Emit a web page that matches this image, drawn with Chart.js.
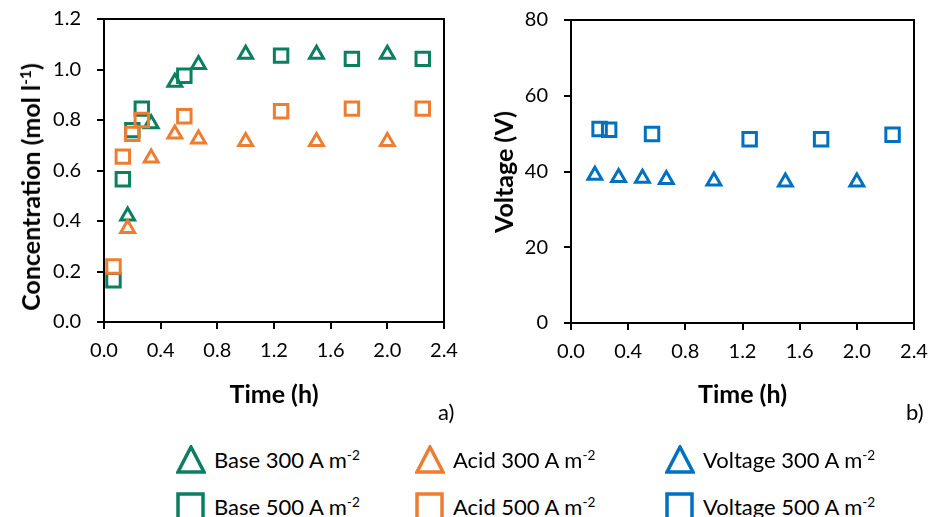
<!DOCTYPE html>
<html>
<head>
<meta charset="utf-8">
<script src="https://cdn.jsdelivr.net/npm/chart.js@4.4.0/dist/chart.umd.min.js"></script>
<style>
  body { margin: 0; background: #fff; font-family: Lato, sans-serif; }
  #wrap { position: relative; width: 929px; height: 517px; overflow: hidden; }
  .box { position: absolute; top: 0; height: 420px; }
  .ytitle { position: absolute; transform: translate(-50%, -50%) rotate(-90deg); white-space: nowrap; font: bold 25px Lato, sans-serif; color: #000; }
  .tag { position: absolute; font: 22px Lato, sans-serif; color: #000; }
  sup { font-size: 0.62em; vertical-align: super; line-height: 0; }
  .leg { position: absolute; font: 22px Lato, sans-serif; color: #000; white-space: nowrap; }
  .mark { position: absolute; }
</style>
</head>
<body>
<div id="wrap">
  <div class="box" style="left:0;width:465px"><canvas id="grafA"></canvas></div>
  <div class="box" style="left:465px;width:464px"><canvas id="grafB"></canvas></div>

  <div class="ytitle" style="left:30px;top:187px">Concentration (mol l<sup>-1</sup>)</div>
  <div class="ytitle" style="left:503px;top:172px">Voltage (V)</div>
  <div class="tag" style="left:438px;top:398px">a)</div>
  <div class="tag" style="left:906px;top:398px">b)</div>

  <div id="legenda"></div>
</div>

<script>
// time points (h)
const tempo300 = [0.167, 0.333, 0.5, 0.667, 1.0, 1.5, 2.0];
const tempo500 = [0.067, 0.133, 0.2, 0.267, 0.567, 1.25, 1.75, 2.25];
const tempoV500 = [0.2, 0.267, 0.567, 1.25, 1.75, 2.25];

// concentrations (mol/l)
const base300 = [0.42, 0.785, 0.95, 1.02, 1.06, 1.06, 1.06];
const acido300 = [0.37, 0.65, 0.745, 0.725, 0.715, 0.715, 0.715];
const base500 = [0.165, 0.565, 0.76, 0.845, 0.975, 1.055, 1.042, 1.042];
const acido500 = [0.22, 0.655, 0.745, 0.8, 0.815, 0.835, 0.845, 0.845];

// voltage (V)
const volt300 = [39.0, 38.4, 38.2, 37.9, 37.5, 37.2, 37.2];
const volt500 = [51.2, 51.0, 49.9, 48.5, 48.5, 49.7];

const ticksX = [0, 0.4, 0.8, 1.2, 1.6, 2.0, 2.4];

const verde = '#0b7f5f';
const laranja = '#ed7d31';
const azul = '#0070c0';

function pontos(xs, ys) {
    return xs.map(function (x, i) { return { x: x, y: ys[i] }; });
}

function serie(xs, ys, cor, estilo) {
    return {
        data: pontos(xs, ys),
        pointStyle: estilo,
        pointRadius: estilo === 'triangle' ? 8 : 9.5,
        pointBorderWidth: 3,
        pointBorderColor: cor,
        pointBackgroundColor: 'rgba(0,0,0,0)',
        borderColor: cor,
        showLine: false
    };
}

// plot frame (top and right edges)
const moldura = {
    id: 'moldura',
    beforeDatasetsDraw(chart) {
        const a = chart.chartArea;
        const ctx = chart.ctx;
        ctx.save();
        ctx.strokeStyle = '#000';
        ctx.lineWidth = 2;
        ctx.strokeRect(a.left, a.top, a.right - a.left, a.bottom - a.top);
        ctx.restore();
    }
};

function semPadding(s) {
    s.paddingTop = 0; s.paddingBottom = 0; s.paddingLeft = 0; s.paddingRight = 0;
}

function opcoes(yMin, yMax, yPasso, yCasas, largY, altX, pad) {
    return {
        responsive: true,
        maintainAspectRatio: false,
        animation: false,
        layout: { padding: pad },
        plugins: { legend: { display: false }, tooltip: { enabled: false } },
        scales: {
            x: {
                type: 'linear',
                min: 0, max: 2.4,
                afterBuildTicks: function (s) { s.ticks = ticksX.map(function (v) { return { value: v }; }); },
                afterFit: function (s) { s.height = altX; semPadding(s); },
                ticks: {
                    callback: function (v) { return Number(v).toFixed(1); },
                    font: { family: 'Lato', size: 20 },
                    color: '#000',
                    padding: 10,
                    maxRotation: 0
                },
                grid: { drawOnChartArea: false, tickLength: 7, color: '#000', lineWidth: 2 },
                border: { color: '#000', width: 2 },
                title: {
                    display: true,
                    text: 'Time (h)',
                    color: '#000',
                    font: { family: 'Lato', size: 25, weight: 'bold' },
                    padding: { top: 0, bottom: 10 }
                }
            },
            y: {
                min: yMin, max: yMax,
                afterFit: function (s) { s.width = largY; semPadding(s); },
                ticks: {
                    stepSize: yPasso,
                    callback: function (v) { return Number(v).toFixed(yCasas); },
                    font: { family: 'Lato', size: 20 },
                    color: '#000',
                    padding: 16
                },
                grid: { drawOnChartArea: false, tickLength: 7, color: '#000', lineWidth: 2 },
                border: { color: '#000', width: 2 }
            }
        }
    };
}

document.addEventListener("DOMContentLoaded", function () {
    new Chart(document.getElementById('grafA').getContext('2d'), {
        type: 'scatter',
        data: {
            datasets: [
                serie(tempo500, acido500, laranja, 'rect'),
                serie(tempo300, acido300, laranja, 'triangle'),
                serie(tempo500, base500, verde, 'rect'),
                serie(tempo300, base300, verde, 'triangle')
            ]
        },
        options: opcoes(0, 1.2, 0.2, 1, 104, 98, { top: 19, right: 21, left: 0, bottom: 0 }),
        plugins: [moldura]
    });

    new Chart(document.getElementById('grafB').getContext('2d'), {
        type: 'scatter',
        data: {
            datasets: [
                serie(tempoV500, volt500, azul, 'rect'),
                serie(tempo300, volt300, azul, 'triangle')
            ]
        },
        options: opcoes(0, 80, 20, 0, 106, 97, { top: 20, right: 15, left: 0, bottom: 0 }),
        plugins: [moldura]
    });

    // legend below both panels
    const itens = [
        { txt: 'Base 300 A m', cor: verde, tipo: 'tri', x: 176, y: 445 },
        { txt: 'Acid 300 A m', cor: laranja, tipo: 'tri', x: 415, y: 445 },
        { txt: 'Voltage 300 A m', cor: azul, tipo: 'tri', x: 665, y: 445 },
        { txt: 'Base 500 A m', cor: verde, tipo: 'sq', x: 176, y: 492 },
        { txt: 'Acid 500 A m', cor: laranja, tipo: 'sq', x: 415, y: 492 },
        { txt: 'Voltage 500 A m', cor: azul, tipo: 'sq', x: 665, y: 492 }
    ];
    const leg = document.getElementById('legenda');
    itens.forEach(function (it) {
        let svg;
        if (it.tipo === 'tri') {
            svg = '<svg class="mark" style="left:' + it.x + 'px;top:' + it.y + 'px" width="30" height="29">' +
                '<polygon points="15,2 28,27 2,27" fill="none" stroke="' + it.cor + '" stroke-width="3.5"/></svg>';
        } else {
            svg = '<svg class="mark" style="left:' + it.x + 'px;top:' + it.y + 'px" width="30" height="30">' +
                '<rect x="2" y="2" width="25" height="25" fill="none" stroke="' + it.cor + '" stroke-width="3.5"/></svg>';
        }
        leg.insertAdjacentHTML('beforeend', svg +
            '<div class="leg" style="left:' + (it.x + 38) + 'px;top:' + (it.y + 1) + 'px">' + it.txt + '<sup>-2</sup></div>');
    });
});
</script>
</body>
</html>
